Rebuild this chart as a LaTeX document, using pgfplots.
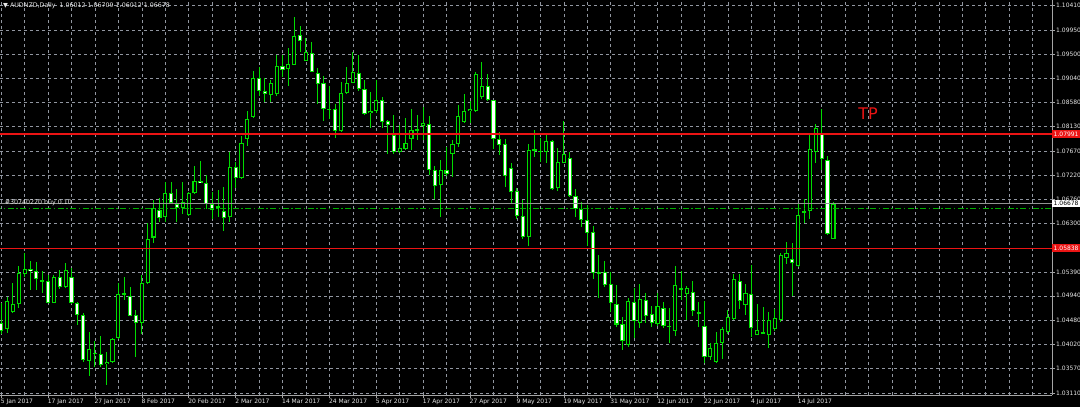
\documentclass[border=0pt]{standalone}
\usepackage{pgfplots}
\pgfplotsset{compat=1.18}
\usepackage{pgfplotstable}
\usepackage{fontspec}
\setmainfont{DejaVu Sans}
\definecolor{mtgreen}{RGB}{0,220,0}
\definecolor{mtgrid}{RGB}{145,150,160}
\definecolor{mtaxis}{RGB}{165,165,165}
\definecolor{mtred}{RGB}{235,20,20}
\definecolor{mttext}{RGB}{230,230,230}
\definecolor{mtorder}{RGB}{0,175,0}

\pgfplotstableread{
i O H L C
0 1.0443 1.0480 1.0423 1.0428
1 1.0431 1.0492 1.0423 1.0484
2 1.0464 1.0519 1.0462 1.0479
3 1.0479 1.0551 1.0471 1.0538
4 1.0535 1.0574 1.0530 1.0545
5 1.0544 1.0560 1.0505 1.0540
6 1.0541 1.0558 1.0505 1.0525
7 1.0523 1.0540 1.0499 1.0521
8 1.0521 1.0533 1.0480 1.0481
9 1.0481 1.0533 1.0480 1.0529
10 1.0529 1.0543 1.0506 1.0510
11 1.0511 1.0555 1.0508 1.0542
12 1.0530 1.0546 1.0479 1.0480
13 1.0480 1.0483 1.0439 1.0458
14 1.0458 1.0461 1.0370 1.0373
15 1.0372 1.0426 1.0343 1.0393
16 1.0386 1.0409 1.0360 1.0385
17 1.0384 1.0418 1.0360 1.0364
18 1.0365 1.0389 1.0326 1.0369
19 1.0369 1.0415 1.0367 1.0412
20 1.0414 1.0518 1.0412 1.0497
21 1.0499 1.0530 1.0486 1.0496
22 1.0494 1.0511 1.0455 1.0456
23 1.0458 1.0467 1.0378 1.0443
24 1.0442 1.0533 1.0423 1.0519
25 1.0518 1.0631 1.0516 1.0602
26 1.0604 1.0675 1.0593 1.0659
27 1.0656 1.0678 1.0634 1.0641
28 1.0643 1.0709 1.0634 1.0687
29 1.0687 1.0708 1.0667 1.0668
30 1.0668 1.0695 1.0634 1.0659
31 1.0659 1.0709 1.0648 1.0670
32 1.0646 1.0690 1.0645 1.0687
33 1.0688 1.0739 1.0685 1.0711
34 1.0711 1.0748 1.0706 1.0706
35 1.0707 1.0722 1.0658 1.0667
36 1.0667 1.0690 1.0638 1.0656
37 1.0662 1.0694 1.0643 1.0661
38 1.0653 1.0699 1.0617 1.0641
39 1.0642 1.0766 1.0634 1.0736
40 1.0737 1.0747 1.0697 1.0716
41 1.0716 1.0795 1.0714 1.0783
42 1.0789 1.0843 1.0777 1.0827
43 1.0831 1.0917 1.0829 1.0904
44 1.0904 1.0925 1.0871 1.0880
45 1.0881 1.0905 1.0859 1.0874
46 1.0873 1.0900 1.0859 1.0896
47 1.0874 1.0948 1.0871 1.0928
48 1.0928 1.0948 1.0907 1.0920
49 1.0921 1.0961 1.0890 1.0931
50 1.0930 1.1019 1.0929 1.0984
51 1.0986 1.1003 1.0954 1.0975
52 1.0937 1.0981 1.0937 1.0953
53 1.0951 1.0972 1.0915 1.0916
54 1.0915 1.0923 1.0856 1.0894
55 1.0895 1.0909 1.0824 1.0846
56 1.0847 1.0890 1.0827 1.0844
57 1.0846 1.0855 1.0791 1.0805
58 1.0805 1.0898 1.0803 1.0876
59 1.0876 1.0925 1.0874 1.0896
60 1.0896 1.0954 1.0895 1.0915
61 1.0915 1.0948 1.0881 1.0883
62 1.0884 1.0901 1.0835 1.0836
63 1.0838 1.0879 1.0810 1.0843
64 1.0842 1.0900 1.0838 1.0863
65 1.0864 1.0868 1.0810 1.0822
66 1.0823 1.0825 1.0761 1.0817
67 1.0798 1.0835 1.0761 1.0765
68 1.0765 1.0816 1.0763 1.0772
69 1.0770 1.0829 1.0769 1.0782
70 1.0789 1.0847 1.0769 1.0806
71 1.0808 1.0835 1.0788 1.0805
72 1.0814 1.0850 1.0788 1.0820
73 1.0818 1.0832 1.0722 1.0732
74 1.0731 1.0739 1.0676 1.0702
75 1.0703 1.0751 1.0643 1.0732
76 1.0732 1.0774 1.0720 1.0724
77 1.0761 1.0788 1.0718 1.0781
78 1.0781 1.0854 1.0775 1.0833
79 1.0822 1.0874 1.0820 1.0842
80 1.0842 1.0861 1.0819 1.0846
81 1.0843 1.0915 1.0841 1.0913
82 1.0868 1.0935 1.0866 1.0890
83 1.0890 1.0912 1.0861 1.0863
84 1.0863 1.0864 1.0770 1.0789
85 1.0790 1.0803 1.0759 1.0779
86 1.0780 1.0790 1.0700 1.0719
87 1.0734 1.0744 1.0668 1.0690
88 1.0692 1.0697 1.0638 1.0645
89 1.0644 1.0675 1.0601 1.0604
90 1.0604 1.0780 1.0588 1.0769
91 1.0767 1.0807 1.0755 1.0770
92 1.0768 1.0791 1.0747 1.0766
93 1.0766 1.0799 1.0745 1.0785
94 1.0785 1.0788 1.0694 1.0695
95 1.0697 1.0772 1.0692 1.0746
96 1.0745 1.0824 1.0744 1.0761
97 1.0753 1.0766 1.0680 1.0683
98 1.0682 1.0695 1.0643 1.0658
99 1.0658 1.0670 1.0623 1.0636
100 1.0636 1.0665 1.0588 1.0612
101 1.0614 1.0626 1.0525 1.0538
102 1.0537 1.0571 1.0489 1.0539
103 1.0538 1.0560 1.0511 1.0514
104 1.0516 1.0538 1.0464 1.0480
105 1.0479 1.0514 1.0436 1.0440
106 1.0440 1.0455 1.0392 1.0409
107 1.0401 1.0489 1.0397 1.0484
108 1.0483 1.0508 1.0414 1.0447
109 1.0442 1.0516 1.0433 1.0489
110 1.0486 1.0499 1.0442 1.0456
111 1.0459 1.0474 1.0436 1.0442
112 1.0440 1.0500 1.0437 1.0475
113 1.0472 1.0483 1.0433 1.0437
114 1.0435 1.0471 1.0406 1.0438
115 1.0428 1.0550 1.0418 1.0514
116 1.0509 1.0540 1.0486 1.0506
117 1.0497 1.0513 1.0448 1.0508
118 1.0502 1.0522 1.0456 1.0466
119 1.0463 1.0483 1.0436 1.0461
120 1.0437 1.0484 1.0367 1.0379
121 1.0379 1.0406 1.0373 1.0395
122 1.0369 1.0425 1.0367 1.0406
123 1.0406 1.0435 1.0375 1.0431
124 1.0425 1.0467 1.0422 1.0455
125 1.0451 1.0535 1.0448 1.0525
126 1.0521 1.0535 1.0469 1.0484
127 1.0477 1.0516 1.0458 1.0499
128 1.0498 1.0552 1.0416 1.0433
129 1.0421 1.0479 1.0420 1.0430
130 1.0423 1.0472 1.0422 1.0425
131 1.0421 1.0463 1.0395 1.0448
132 1.0431 1.0469 1.0428 1.0453
133 1.0448 1.0574 1.0445 1.0571
134 1.0565 1.0596 1.0554 1.0574
135 1.0564 1.0594 1.0494 1.0556
136 1.0551 1.0667 1.0549 1.0647
137 1.0651 1.0676 1.0632 1.0654
138 1.0654 1.0800 1.0638 1.0771
139 1.0766 1.0817 1.0745 1.0810
140 1.0801 1.0847 1.0731 1.0752
141 1.0750 1.0758 1.0609 1.0610
142 1.06012 1.06709 1.06012 1.06678
}\ohlc

\begin{document}
\begin{tikzpicture}
\useasboundingbox (0,0) rectangle (1080pt,-407pt);
\fill[black] (0,0) rectangle (1080pt,-407pt);
\begin{axis}[
  at={(0,0)}, anchor=north west,
  scale only axis, width=1052pt, height=395pt,
  xmin=-0.2, xmax=179.3, ymin=1.03070, ymax=1.10516,
  axis x line*=bottom, axis y line*=right,
  axis line style={mtaxis, line width=0.8pt},
  xtick={0,8,...,136},
  xticklabels={5 Jan 2017,17 Jan 2017,27 Jan 2017,8 Feb 2017,20 Feb 2017,2 Mar 2017,14 Mar 2017,24 Mar 2017,5 Apr 2017,17 Apr 2017,27 Apr 2017,9 May 2017,19 May 2017,31 May 2017,12 Jun 2017,22 Jun 2017,4 Jul 2017,14 Jul 2017},
  minor xtick={4,12,20,28,36,44,52,60,68,76,84,92,100,108,116,124,132,140,144,148,152,156,160,164,168,172,176},
  ytick={1.03110,1.03570,1.04020,1.04480,1.04940,1.05390,1.06300,1.06760,1.07220,1.07670,1.08130,1.08580,1.09040,1.09500,1.09950,1.10410},
  yticklabels={1.03110,1.03570,1.04020,1.04480,1.04940,1.05390,1.06300,1.06760,1.07220,1.07670,1.08130,1.08580,1.09040,1.09500,1.09950,1.10410},
  grid=both,
  major grid style={mtgrid, dash pattern=on 3pt off 3pt, line width=0.6pt},
  minor grid style={mtgrid, dash pattern=on 3pt off 3pt, line width=0.6pt},
  minor tick length=0pt,
  major tick length=3pt,
  tick align=outside,
  tick style={mtaxis, line width=0.6pt},
  ticklabel style={font=\fontsize{6}{7}\selectfont, text=mttext},
  xticklabel style={anchor=north west, inner sep=0pt, xshift=-0.5pt, yshift=-1pt},
  yticklabel style={anchor=west, inner sep=0pt, xshift=1pt},
]
% wicks
\addplot[draw=none, mark=none, forget plot, error bars/.cd, y dir=both, y explicit, error mark=none,
  error bar style={draw=mtgreen, line width=1pt}]
  table[x=i, y expr={(\thisrow{H}+\thisrow{L})/2}, y error expr={(\thisrow{H}-\thisrow{L})/2}] {\ohlc};
% body outlines
\addplot[draw=none, mark=none, forget plot, error bars/.cd, y dir=both, y explicit, error mark=none,
  error bar style={draw=mtgreen, line width=4.2pt}]
  table[x=i, y expr={(\thisrow{O}+\thisrow{C})/2}, y error expr={max(abs(\thisrow{C}-\thisrow{O})/2,0.0001)}] {\ohlc};
% bear bodies (white)
\addplot[draw=none, mark=none, forget plot, error bars/.cd, y dir=both, y explicit, error mark=none,
  error bar style={draw=white, line width=2.1pt}]
  table[x=i, y expr={\thisrow{C}<\thisrow{O} ? (\thisrow{O}+\thisrow{C})/2 : 2}, y error expr={max((\thisrow{O}-\thisrow{C})/2-0.00019,0)}] {\ohlc};
% bull bodies (black)
\addplot[draw=none, mark=none, forget plot, error bars/.cd, y dir=both, y explicit, error mark=none,
  error bar style={draw=black, line width=2.1pt}]
  table[x=i, y expr={\thisrow{C}>\thisrow{O} ? (\thisrow{O}+\thisrow{C})/2 : 2}, y error expr={max((\thisrow{C}-\thisrow{O})/2-0.00019,0)}] {\ohlc};
% level lines
\addplot[mtred, line width=1.3pt, forget plot] coordinates {(-1,1.07991) (181,1.07991)};
\addplot[mtred, line width=1.3pt, forget plot] coordinates {(-1,1.05838) (181,1.05838)};
\addplot[gray!85, line width=0.9pt, forget plot] coordinates {(-1,1.06678) (181,1.06678)};
\addplot[mtorder, line width=0.9pt, dash pattern=on 6pt off 2.5pt on 1.5pt off 2.5pt, forget plot] coordinates {(-1,1.06595) (181,1.06595)};
% texts
\node[anchor=north west, text=mttext, font=\fontsize{6.3}{7}\selectfont, inner sep=0pt] at (rel axis cs:0,1) [xshift=3pt, yshift=-2.5pt] {▼ AUDNZD,Daily\ \ 1.06012 1.06709 1.06012 1.06678};
\node[anchor=west, text=mttext, font=\fontsize{6.3}{7}\selectfont, inner sep=0pt] at (axis cs:0.6,1.0669) {\#30740220 buy 0.10};
\node[text=mtred, font=\fontsize{16}{16}\selectfont, inner sep=0pt] at (axis cs:147.9,1.0837) {TP};
\coordinate (l1) at (axis cs:179.3,1.07991);
\coordinate (l2) at (axis cs:179.3,1.05838);
\coordinate (l3) at (axis cs:179.3,1.06678);
\end{axis}
\node[anchor=west, fill=mtred, text=white, font=\fontsize{6}{7}\selectfont, inner xsep=1.5pt, inner ysep=1.6pt, minimum width=27.5pt] at (l1) {1.07991};
\node[anchor=west, fill=mtred, text=white, font=\fontsize{6}{7}\selectfont, inner xsep=1.5pt, inner ysep=1.6pt, minimum width=27.5pt] at (l2) {1.05838};
\node[anchor=west, fill=white, text=black, font=\fontsize{6}{7}\selectfont, inner xsep=1.5pt, inner ysep=1.6pt, minimum width=27.5pt] at (l3) {1.06678};
\end{tikzpicture}
\end{document}
